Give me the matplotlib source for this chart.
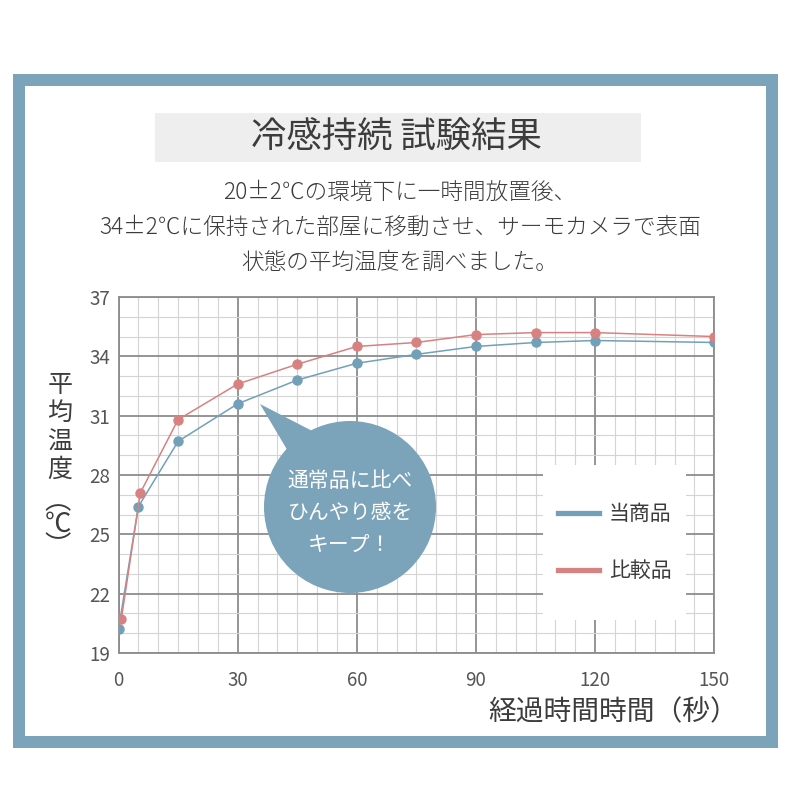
import matplotlib
matplotlib.use('Agg')
import matplotlib.pyplot as plt
from matplotlib.patches import Rectangle, Circle, Polygon
from matplotlib.ticker import MultipleLocator

plt.rcParams['font.family'] = ['Noto Sans CJK JP', 'DejaVu Sans']

# data
time_ours = [0, 5, 15, 30, 45, 60, 75, 90, 105, 120, 150]
temp_ours = [20.2, 26.4, 29.7, 31.6, 32.8, 33.65, 34.1, 34.5, 34.7, 34.8, 34.7]
time_comp = [0.7, 5.5, 15, 30, 45, 60, 75, 90, 105, 120, 150]
temp_comp = [20.7, 27.1, 30.8, 32.6, 33.6, 34.5, 34.7, 35.1, 35.2, 35.2, 35.0]
series_names = ['当商品', '比較品']
x_ticks = [0, 30, 60, 90, 120, 150]
y_ticks = [19, 22, 25, 28, 31, 34, 37]

title = '冷感持続 試験結果'
subtitle = ['20±2℃の環境下に一時間放置後、',
            '34±2℃に保持された部屋に移動させ、サーモカメラで表面',
            '状態の平均温度を調べました。']
bubble_lines = ['通常品に比べ', 'ひんやり感を', 'キープ！']
xlabel = '経過時間時間（秒）'
ylabel_chars = ['平', '均', '温', '度']
ylabel_unit = '︵\n℃\n︶'

blue = '#72a0b8'
red = '#d88181'
frame = '#7ba4ba'
txt = '#3c3c3c'

W = 790.0
def fx(px):
    return px / W
def fy(py):
    return 1 - py / W

fig = plt.figure(figsize=(7.9, 7.9), dpi=100)
fig.patch.set_facecolor('white')

# outer frame
fig.patches.append(Rectangle((fx(13), fy(748)), fx(765), fx(674), transform=fig.transFigure,
                             facecolor=frame, edgecolor='none', zorder=-2))
fig.patches.append(Rectangle((fx(25), fy(736)), fx(741), fx(650), transform=fig.transFigure,
                             facecolor='white', edgecolor='none', zorder=-1))
# title box
fig.patches.append(Rectangle((fx(155), fy(162)), fx(486), fx(49), transform=fig.transFigure,
                             facecolor='#eeeeee', edgecolor='none', zorder=-1))
fig.text(fx(396), fy(138), title, ha='center', va='center', fontsize=25.5, color=txt)
for i, line in enumerate(subtitle):
    fig.text(fx(400), fy(192 + 35 * i), line, ha='center', va='center', fontsize=16.3,
             color=txt, fontweight='light')

ax = fig.add_axes([fx(118.5), fy(653), fx(714.3 - 118.5), fx(653 - 297)])
ax.plot(time_ours, temp_ours, '-o', color=blue, lw=1.1, ms=6.5, label=series_names[0], zorder=3)
ax.plot(time_comp, temp_comp, '-o', color=red, lw=1.1, ms=6.5, label=series_names[1], zorder=3)
ax.set_xlim(0, 150)
ax.set_ylim(19, 37)
ax.set_xticks(x_ticks)
ax.set_yticks(y_ticks)
ax.xaxis.set_minor_locator(MultipleLocator(5))
ax.yaxis.set_minor_locator(MultipleLocator(1))
ax.grid(which='major', color='#8c8c8c', lw=1.3)
ax.grid(which='minor', color='#d4d4d4', lw=0.8)
ax.tick_params(which='both', length=0, labelsize=13.5, labelcolor='#555555')
ax.tick_params(axis='x', pad=12)
ax.tick_params(axis='y', pad=6)
for s in ax.spines.values():
    s.set_color('#8c8c8c')
    s.set_linewidth(1.3)

# legend box
ax.add_patch(Rectangle((0.7126, 0.0927), 0.24, 0.4353, transform=ax.transAxes,
                       facecolor='white', edgecolor='none', zorder=2.2))
leg = ax.legend(loc='center', bbox_to_anchor=(0.8326, 0.31), frameon=False, fontsize=15,
                handlelength=2.0, handletextpad=0.45, labelspacing=1.65, labelcolor=txt)
leg.set_zorder(5)
for ln in leg.get_lines():
    ln.set_marker('')
    ln.set_linewidth(3.8)

# speech bubble
fig.patches.append(Circle((fx(350), fy(507)), fx(86), transform=fig.transFigure,
                          facecolor=frame, edgecolor='none', zorder=2))
fig.patches.append(Polygon([(fx(260), fy(404)), (fx(292), fy(458)), (fx(322), fy(436))],
                           closed=True, transform=fig.transFigure,
                           facecolor=frame, edgecolor='none', zorder=2))
for i, line in enumerate(bubble_lines):
    fig.text(fx(350), fy(481 + 32 * i), line, ha='center', va='center', fontsize=15,
             color='white', zorder=3)

# axis labels
fig.text(fx(738), fy(712), xlabel, ha='right', va='center', fontsize=20, color=txt)
for ch, y in zip(ylabel_chars, [385, 413, 443, 470]):
    fig.text(fx(60), fy(y), ch, ha='center', va='center', fontsize=18, color=txt)
fig.text(fx(58), fy(524), ylabel_unit, ha='center', va='center', fontsize=19,
         linespacing=0.8, color=txt)

fig.savefig('out.png', dpi=100)
